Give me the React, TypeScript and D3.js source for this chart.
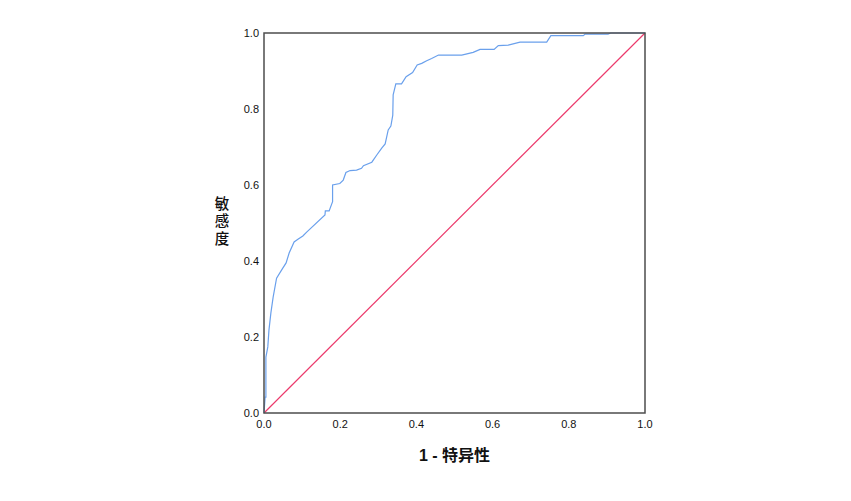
import React from "react";
import * as d3 from "d3";

// ROC curve points (1 - specificity, sensitivity)
const fpr = [
  0, 0.003, 0.005, 0.005, 0.01, 0.013, 0.018, 0.024, 0.033, 0.046, 0.058, 0.066,
  0.079, 0.09, 0.102, 0.112, 0.16, 0.161, 0.171, 0.18, 0.18, 0.199, 0.208, 0.215,
  0.226, 0.243, 0.256, 0.261, 0.283, 0.296, 0.309, 0.318, 0.326, 0.333, 0.338,
  0.339, 0.346, 0.361, 0.373, 0.39, 0.402, 0.414, 0.427, 0.44, 0.458, 0.519,
  0.549, 0.567, 0.604, 0.615, 0.641, 0.672, 0.742, 0.753, 0.838, 0.843, 0.903,
  0.91, 1,
];
const tpr = [
  0, 0.042, 0.042, 0.147, 0.174, 0.218, 0.263, 0.305, 0.355, 0.376, 0.395, 0.421,
  0.45, 0.458, 0.466, 0.476, 0.521, 0.532, 0.532, 0.556, 0.6, 0.604, 0.613, 0.633,
  0.638, 0.639, 0.644, 0.651, 0.66, 0.679, 0.697, 0.708, 0.745, 0.755, 0.784,
  0.837, 0.866, 0.866, 0.885, 0.896, 0.916, 0.92, 0.927, 0.933, 0.942, 0.942,
  0.949, 0.957, 0.957, 0.967, 0.968, 0.976, 0.976, 0.993, 0.993, 0.997, 0.997,
  1, 1,
];
const ticks = [0, 0.2, 0.4, 0.6, 0.8, 1.0];
const xTitle = "1 - 特异性";
const yTitle = "敏感度";

const W = 851;
const H = 501;
const left = 264;
const right = 645;
const top = 33;
const bottom = 413;

export default function App() {
  const x = d3.scaleLinear([0, 1], [left, right]);
  const y = d3.scaleLinear([0, 1], [bottom, top]);
  const pts: [number, number][] = fpr.map((f, i) => [f, tpr[i]]);
  const line = d3.line<[number, number]>((d) => x(d[0]), (d) => y(d[1]));
  const font = "'Liberation Sans', Arial, sans-serif";

  return (
    <svg
      width={W}
      height={H}
      style={{ position: "fixed", left: 0, top: 0, background: "#fff" }}
    >
      <rect x={0} y={0} width={W} height={H} fill="#fff" />
      {/* diagonal reference */}
      <path
        d={line([[0, 0], [1, 1]]) || ""}
        fill="none"
        stroke="#ec3a6c"
        strokeWidth={1.2}
      />
      <path d={line(pts) || ""} fill="none" stroke="#6aa0ec" strokeWidth={1.2} />
      <rect
        x={left}
        y={top}
        width={right - left}
        height={bottom - top}
        fill="none"
        stroke="#4d4d4d"
        strokeWidth={1.5}
      />
      <g fontFamily={font} fontSize={11} fill="#111">
        {ticks.map((t) => (
          <text key={"y" + t} x={left - 5} y={y(t) + 4} textAnchor="end">
            {t.toFixed(1)}
          </text>
        ))}
        {ticks.map((t) => (
          <text key={"x" + t} x={x(t)} y={bottom + 15} textAnchor="middle">
            {t.toFixed(1)}
          </text>
        ))}
      </g>
      <text
        x={(left + right) / 2}
        y={461}
        textAnchor="middle"
        fontFamily={"'Liberation Sans', 'Noto Sans CJK SC', sans-serif"}
        fontWeight="bold"
        fontSize={16}
        fill="#111"
      >
        {xTitle}
      </text>
      {/* vertical y title */}
      <text
        x={222}
        y={222}
        textAnchor="middle"
        style={{ writingMode: "vertical-rl", textOrientation: "upright" }}
        fontFamily={"'Noto Sans CJK SC', sans-serif"}
        fontWeight={500}
        fontSize={14.5}
        letterSpacing={3}
        fill="#111"
      >
        {yTitle}
      </text>
    </svg>
  );
}
